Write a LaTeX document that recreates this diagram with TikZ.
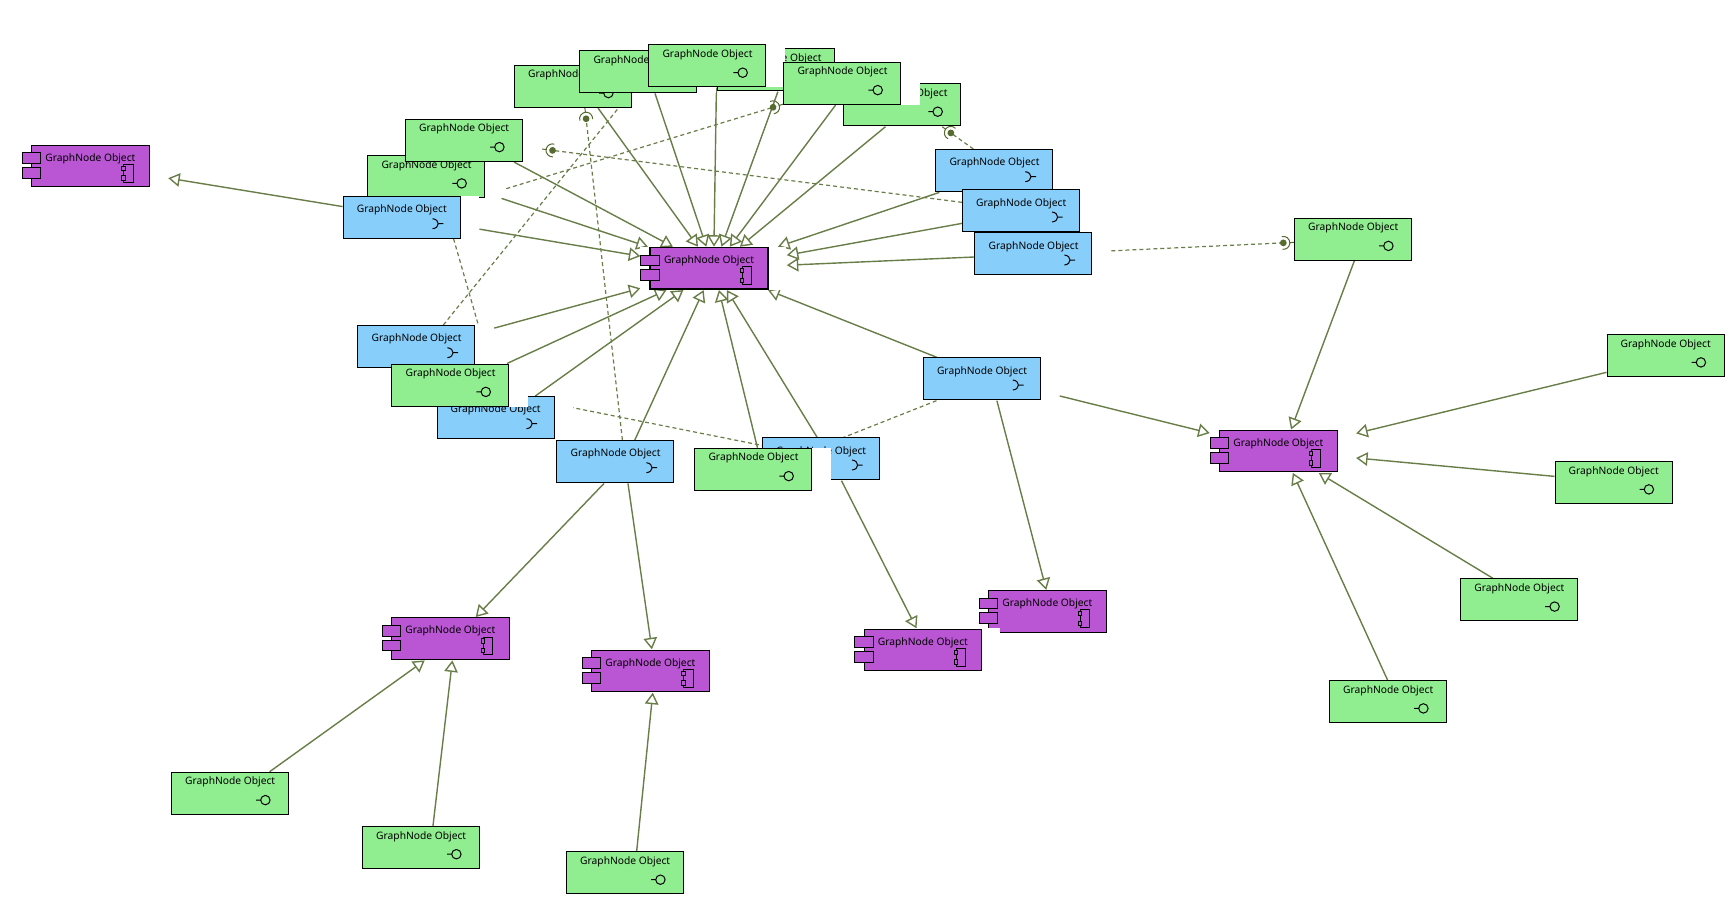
\documentclass[tikz,border=0pt]{standalone}
\usepackage{fontspec}
\setmainfont{Noto Sans}
\usetikzlibrary{arrows.meta,backgrounds,decorations.markings}
\definecolor{ifacegreen}{HTML}{90EE90}
\definecolor{sockblue}{HTML}{87CEFA}
\definecolor{compviolet}{HTML}{BA55D3}
\definecolor{linkolive}{HTML}{556B2F}
\tikzset{
  basenode/.style={rectangle,anchor=north west,inner sep=0pt,
    minimum height=43pt,text height=13pt,text depth=30pt,
    font=\fontsize{10.25}{12}\selectfont},
  ifacenode/.style={basenode,minimum width=136.5pt,
    execute at begin node={\hspace*{-18.5pt}}},
  socknode/.style={ifacenode,text height=16.5pt,text depth=26.5pt},
  compnode/.style={basenode,minimum width=146pt,text height=16.5pt,text depth=26.5pt,
    execute at begin node={\hspace*{-9.2pt}}},
  objline/.style={draw=black,line width=1pt},
  genline/.style={draw=linkolive!88,line width=1.4pt,-{Triangle[open,length=11.5pt,width=13.5pt]}},
  dashline/.style={draw=linkolive!88,line width=1.2pt,dash pattern=on 4pt off 3pt},
  sockline/.style={dashline,shorten >=10.7pt,
    postaction={decorate,decoration={markings,mark=at position 1 with {
      \fill[linkolive] (-10.7pt,0pt) circle (3.4pt);
      \draw[linkolive,solid,line width=1pt,shorten >=0pt]
        (-11.8pt,-6.4pt) arc[start angle=-100,end angle=100,radius=6.5pt]
        (-4.2pt,0pt) -- (0pt,0pt);}}}}
}
% green object with a circle
\newcommand{\ifaceobj}[3]{
  \begin{scope}[shift={(#2,#3)}]
    \fill[white] (0,0) rectangle (136.5,43);
    \filldraw[objline,fill=ifacegreen] (0.5,0.5) rectangle (117.5,42.5);
    \draw[objline] (85,28.4) -- (89.7,28.4) (94.4,28.4) circle (4.7pt);
  \end{scope}
  \node[ifacenode] (#1) at (#2,#3) {GraphNode Object};
}
% blue object with a half circle
\newcommand{\sockobj}[3]{
  \begin{scope}[shift={(#2,#3)}]
    \fill[white] (0,0) rectangle (136.5,43);
    \filldraw[objline,fill=sockblue] (0.5,0.5) rectangle (117.5,42.5);
    \draw[objline] (90,22.7) .. controls (97.5,23.5) and (97.5,32) .. (90,32.7)
      (96,27.7) -- (100.7,27.7);
  \end{scope}
  \node[socknode] (#1) at (#2,#3) {GraphNode Object};
}
% violet object with two tabs
\newcommand{\compobj}[4][1pt]{
  \begin{scope}[shift={(#3,#4)}]
    \fill[white] (0,0) rectangle (146,43);
    \filldraw[objline,fill=compviolet,line width=#1] (9.8,0.7) rectangle (127.3,42.3);
    \filldraw[objline,fill=compviolet] (0.5,8.3) rectangle (18.8,19);
    \filldraw[objline,fill=compviolet] (0.5,23) rectangle (18.8,33.7);
    \draw[objline] (101.8,20) rectangle (111.2,37.7);
    \filldraw[objline,fill=compviolet] (99.8,21.7) rectangle (103.2,26);
    \filldraw[objline,fill=compviolet] (99.8,31.3) rectangle (103.2,35.7);
  \end{scope}
  \node[compnode] (#2) at (#3,#4) {GraphNode Object};
}
\begin{document}
\begin{tikzpicture}[x=1pt,y=-1pt]
  \useasboundingbox (0,0) rectangle (1731,911);
  % top cluster
  \ifaceobj{ga}{514}{64.7}
  \ifaceobj{gb}{579.3}{50}
  \ifaceobj{gd}{717.3}{48.3}
  \ifaceobj{gf}{843.3}{83.3}
  \ifaceobj{gc}{648.3}{44.3}
  \ifaceobj{ge}{783.3}{61.7}
  \ifaceobj{gh}{367.3}{155}
  \ifaceobj{gg}{405}{118.7}
  \sockobj{ba}{342.6}{196}
  \sockobj{bf}{935.3}{149}
  \sockobj{bg}{962}{189.3}
  \sockobj{bh}{974.4}{232.3}
  % lower left of the hub
  \sockobj{bb}{357.4}{325}
  \sockobj{bc}{436.5}{396}
  \ifaceobj{gi}{391.4}{363.5}
  \sockobj{bd}{556.4}{440}
  \sockobj{be}{762}{437.3}
  \ifaceobj{gj}{694.3}{447.7}
  \sockobj{bi}{922.8}{357.3}
  % components
  \compobj[1.8pt]{ca}{640.4}{246.7}
  \compobj{cb}{21.8}{144.5}
  \compobj{cc}{1209.7}{429.5}
  \compobj{cd}{381.7}{617}
  \compobj{ce}{581.8}{649.3}
  \compobj{cf}{978.7}{589.8}
  \compobj{cg}{854.3}{628.3}
  % outer interfaces
  \ifaceobj{gk}{1294}{217.5}
  \ifaceobj{gl}{1606.5}{334}
  \ifaceobj{gm}{1554.5}{461}
  \ifaceobj{gn}{1460.2}{578.2}
  \ifaceobj{go}{1329}{680}
  \ifaceobj{gp}{171}{771.7}
  \ifaceobj{gq}{362}{825.8}
  \ifaceobj{gr}{566}{851.3}
  \begin{pgfonlayer}{background}
    % realisations
    \foreach \n in {ga,gb,gc,gd,ge,gf,gg,gh,gi,gj,ba,bb,bc,bd,be,bf,bg,bh,bi}
      \draw[genline] (\n) -- (ca);
    \draw[genline] (ba) -- (cb);
    \foreach \n in {bi,gk,gl,gm,gn,go}
      \draw[genline] (\n) -- (cc);
    \foreach \n in {bd,gp,gq}
      \draw[genline] (\n) -- (cd);
    \foreach \n in {bd,gr}
      \draw[genline] (\n) -- (ce);
    \draw[genline] (bi) -- (cf);
    \draw[genline] (be) -- (cg);
    % uses
    \draw[sockline] (bg) -- (gg);
    \draw[sockline] (ba) -- (ge);
    \draw[sockline] (bb) -- (gb);
    \draw[sockline] (bd) -- (ga);
    \draw[sockline] (bi) -- (gj);
    \draw[sockline] (bf) -- (gf);
    \draw[sockline] (bh) -- (gk);
    \draw[dashline] (gh) -- (bc);
    \draw[dashline] (gi) -- (be);
  \end{pgfonlayer}
\end{tikzpicture}
\end{document}
